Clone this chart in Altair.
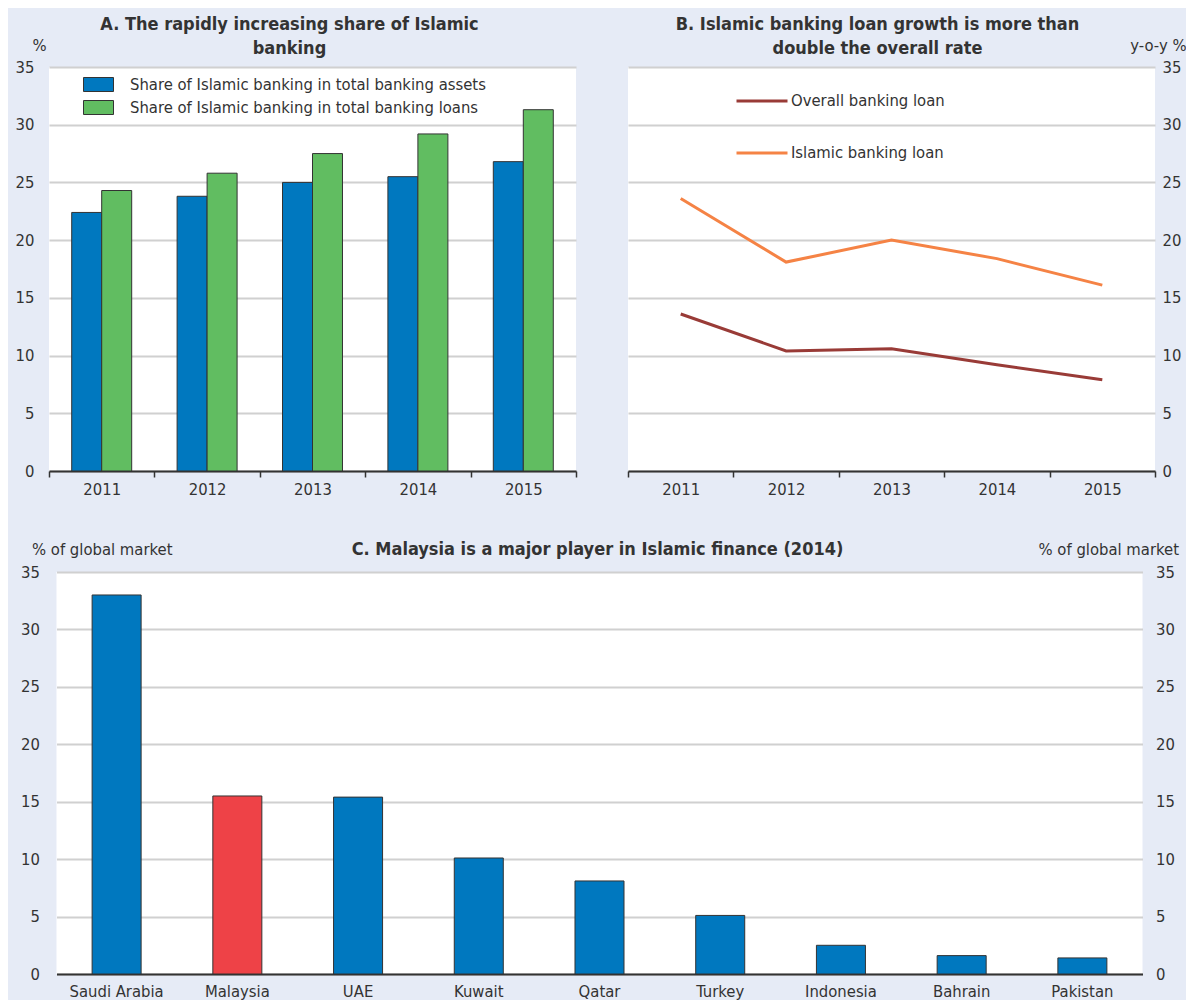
import altair as alt
import pandas as pd

# ---------------- data ----------------
years = ["2011", "2012", "2013", "2014", "2015"]
share_assets = [22.4, 23.8, 25.0, 25.5, 26.8]
share_loans = [24.3, 25.8, 27.5, 29.2, 31.3]
series_a = ["Share of Islamic banking in total banking assets",
            "Share of Islamic banking in total banking loans"]

growth_overall = [13.6, 10.4, 10.6, 9.2, 7.9]
growth_islamic = [23.6, 18.1, 20.0, 18.4, 16.1]
series_b = ["Overall banking loan", "Islamic banking loan"]

countries = ["Saudi Arabia", "Malaysia", "UAE", "Kuwait", "Qatar",
             "Turkey", "Indonesia", "Bahrain", "Pakistan"]
market_share = [33.0, 15.5, 15.4, 10.1, 8.1, 5.1, 2.5, 1.6, 1.4]
highlight_country = "Malaysia"

y_ticks = [0, 5, 10, 15, 20, 25, 30, 35]

# ---------------- style ----------------
FONT = "DejaVu Sans Condensed"
FS = 16.5
TXT = "#333333"
BG = "#E6EBF6"
GRID = "#D0D0D0"
BLUE = "#0078BF"
GREEN = "#61BD61"
RED = "#EE4247"
DARKRED = "#993B37"
ORANGE = "#F58345"

# ---------------- tables ----------------
dfa = pd.DataFrame({
    "year": years * 2,
    "series": [series_a[0]] * len(years) + [series_a[1]] * len(years),
    "value": share_assets + share_loans,
})
dfb = pd.DataFrame({
    "year": years * 2,
    "series": [series_b[0]] * len(years) + [series_b[1]] * len(years),
    "value": growth_overall + growth_islamic,
})
dfc = pd.DataFrame({
    "country": countries,
    "share": market_share,
    "group": ["hl" if c == highlight_country else "other" for c in countries],
})

yscale = alt.Scale(domain=[0, 35], nice=False, zero=True)

# ---------------- panel A ----------------
x_a = alt.X("year:N", scale=alt.Scale(paddingInner=0, paddingOuter=0),
            axis=alt.Axis(title=None, labelAngle=0, tickBand="extent", ticks=True,
                          tickSize=6, domain=True, labelPadding=4, grid=False))
y_a = alt.Y("value:Q", scale=yscale,
            axis=alt.Axis(values=y_ticks, title="%", titleAngle=0, titleAlign="right",
                          titleBaseline="alphabetic", titleX=-3, titleY=-17,
                          labelPadding=15, ticks=False, domain=False, grid=True))
chart_a = alt.Chart(dfa).mark_bar(stroke="#333333", strokeWidth=1).encode(
    x=x_a,
    xOffset=alt.XOffset("series:N", sort=series_a,
                        scale=alt.Scale(paddingInner=0, paddingOuter=0.757)),
    y=y_a,
    color=alt.Color("series:N",
                    scale=alt.Scale(domain=series_a, range=[BLUE, GREEN]),
                    legend=alt.Legend(title=None, orient="none", legendX=39, legendY=7,
                                      symbolType="M-1.5,-0.7H1.5V0.7H-1.5Z", symbolSize=400,
                                      symbolStrokeColor="#333333", symbolStrokeWidth=1,
                                      symbolOpacity=1, labelOffset=21, rowPadding=3,
                                      labelFontSize=FS, labelColor=TXT, labelLimit=0,
                                      padding=0)),
).properties(
    width=527, height=404,
    title=alt.Title(["A. The rapidly increasing share of Islamic", "banking"],
                    dx=-23, offset=-21, lineHeight=24),
)

# ---------------- panel B ----------------
x_b = alt.X("year:N", scale=alt.Scale(paddingInner=0, paddingOuter=0),
            axis=alt.Axis(title=None, labelAngle=0, tickBand="extent", ticks=True,
                          tickSize=6, domain=True, labelPadding=4, grid=False))
y_b = alt.Y("value:Q", scale=yscale,
            axis=alt.Axis(orient="right", values=y_ticks, title="y-o-y %", titleAngle=0,
                          titleAlign="right", titleBaseline="alphabetic", titleX=31,
                          titleY=-17, labelPadding=7, ticks=False, domain=False, grid=True))
chart_b = alt.Chart(dfb).mark_line(strokeWidth=3).encode(
    x=x_b,
    y=y_b,
    color=alt.Color("series:N",
                    scale=alt.Scale(domain=series_b, range=[DARKRED, ORANGE]),
                    legend=alt.Legend(title=None, orient="none", legendX=107, legendY=7,
                                      symbolType="stroke", symbolSize=2601,
                                      symbolStrokeWidth=3, labelOffset=2, rowPadding=16,
                                      labelFontSize=FS, labelColor=TXT, labelLimit=0,
                                      padding=0)),
).properties(
    width=527, height=404,
    title=alt.Title(["B. Islamic banking loan growth is more than", "double the overall rate"],
                    dx=-14, offset=-21, lineHeight=24),
)

# ---------------- panel C ----------------
x_c = alt.X("country:N", sort=countries,
            scale=alt.Scale(paddingInner=0.594, paddingOuter=0.295),
            axis=alt.Axis(title=None, labelAngle=0, ticks=False, domain=True,
                          labelPadding=9, grid=False))
bars_c = alt.Chart(dfc).mark_bar(stroke="#333333", strokeWidth=1).encode(
    x=x_c,
    y=alt.Y("share:Q", scale=yscale,
            axis=alt.Axis(orient="left", values=y_ticks, title="% of global market",
                          titleAngle=0, titleAlign="left", titleBaseline="alphabetic",
                          titleX=-25, titleY=-18, labelPadding=17, ticks=False,
                          domain=False, grid=True)),
    color=alt.Color("group:N", scale=alt.Scale(domain=["other", "hl"], range=[BLUE, RED]),
                    legend=None),
)
right_c = alt.Chart(dfc).mark_bar(opacity=0).encode(
    x=x_c,
    y=alt.Y("share:Q", scale=yscale,
            axis=alt.Axis(orient="right", values=y_ticks, title="% of global market",
                          titleAngle=0, titleAlign="right", titleBaseline="alphabetic",
                          titleX=36, titleY=-18, labelPadding=13, ticks=False,
                          domain=False, grid=False)),
)
chart_c = alt.layer(bars_c, right_c).resolve_scale(y="independent").properties(
    width=1086, height=402,
    title=alt.Title("C. Malaysia is a major player in Islamic finance (2014)",
                    dx=-2, offset=-18),
)

top = alt.hconcat(chart_a, chart_b, spacing=50).resolve_scale(color="independent")
chart = alt.vconcat(top, chart_c, spacing=43, center=True).resolve_scale(
    color="independent"
).configure(
    background=BG,
    font=FONT,
    padding={"left": 7, "top": 8, "right": 0, "bottom": 0},
).configure_view(
    fill="white", stroke="transparent", strokeWidth=0,
).configure_axis(
    labelFont=FONT, labelFontSize=FS, labelColor=TXT,
    titleFont=FONT, titleFontSize=FS, titleFontWeight="normal", titleColor=TXT,
    gridColor=GRID, gridWidth=2,
    domainColor="#333333", domainWidth=2, tickColor="#333333", tickWidth=1.5,
).configure_legend(
    labelFont=FONT,
).configure_title(
    font=FONT, fontSize=18, fontWeight="bold", color=TXT, anchor="middle", frame="group",
)

chart.save("out.html", embed_options={"renderer": "svg", "actions": False})
